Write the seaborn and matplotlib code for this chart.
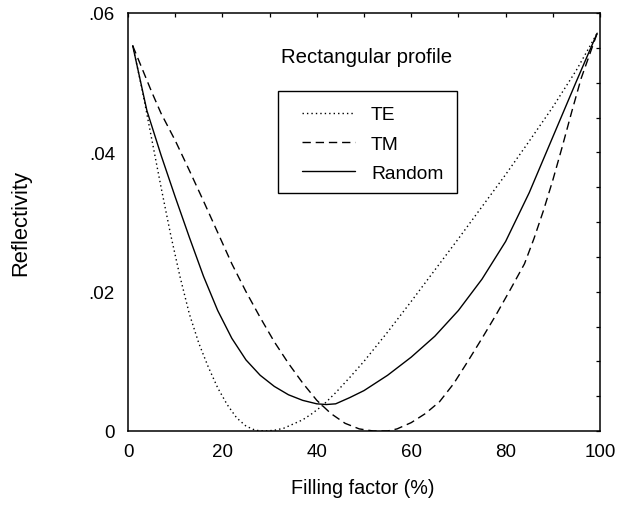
import numpy as np
import pandas as pd
import matplotlib
matplotlib.use("Agg")
import matplotlib.pyplot as plt
from matplotlib.patches import Rectangle
from matplotlib.ticker import MultipleLocator, FixedLocator, FixedFormatter
import seaborn as sns

# ---- data ----
te_x = [1, 3, 5, 7, 9, 11, 13, 15, 17, 19, 21, 23, 25, 27, 29, 31, 33, 35, 37, 39,
        41.3, 44, 47, 50, 55, 60, 65, 70, 75, 80, 85, 90, 95, 99.4]
te_y = [.0553, .0490, .0420, .0350, .0283, .0222, .0168, .0126, .0092, .0062, .0038,
        .0019, .0007, .0001, 0, .0001, .0004, .0010, .0016, .0025, .0037, .0055, .0077,
        .0100, .0142, .0186, .0231, .0276, .0322, .0368, .0416, .0465, .0518, .0571]

tm_x = [1, 3, 5, 7, 10, 13, 16, 19, 22, 25, 28, 31, 34, 37, 40, 43, 46, 49, 52, 55,
        57, 60, 63, 66, 69, 72, 75, 78, 81, 84, 86, 88, 90, 92, 94, 96, 99.4]
tm_y = [.0553, .0520, .0487, .0456, .0417, .0374, .0330, .0285, .0240, .0200, .0163,
        .0128, .0097, .0069, .0044, .0025, .0011, .0003, 0, 0, .0003, .0012, .0025,
        .0042, .0068, .0100, .0133, .0167, .0203, .0240, .0276, .0316, .0360, .0408,
        .0458, .0506, .0571]

rnd_x = [1, 4, 7, 10, 13, 16, 19, 22, 25, 28, 31, 34, 37, 40, 42, 44, 47, 50, 55,
         60, 65, 70, 75, 80, 85, 90, 95, 99.4]
rnd_y = [.0553, .0460, .0396, .0336, .0278, .0222, .0173, .0133, .0102, .0080, .0064,
         .0052, .0044, .0039, .0038, .0039, .0048, .0058, .0080, .0106, .0136, .0173,
         .0218, .0272, .0342, .0422, .0502, .0571]

series_names = ["TE", "TM", "Random"]
x_ticks = [0, 20, 40, 60, 80, 100]
x_tick_labels = ["0", "20", "40", "60", "80", "100"]
y_ticks = [0, 0.02, 0.04, 0.06]
y_tick_labels = ["0", ".02", ".04", ".06"]
title_text = "Rectangular profile"
x_label = "Filling factor (%)"
y_label = "Reflectivity"

# ---- styling ----
sns.set_theme(style="white")
plt.rcParams["font.family"] = ["Liberation Sans", "DejaVu Sans"]

fig = plt.figure(figsize=(6.17, 5.06), dpi=100)
ax = fig.add_axes([128 / 617, 1 - 432 / 506, 472 / 617, 418 / 506])

df = pd.concat([
    pd.DataFrame({"x": te_x, "y": te_y, "s": series_names[0]}),
    pd.DataFrame({"x": tm_x, "y": tm_y, "s": series_names[1]}),
    pd.DataFrame({"x": rnd_x, "y": rnd_y, "s": series_names[2]}),
])

styles = {
    "TE": (0, (1.0, 2.2)),
    "TM": (0, (6.0, 3.5)),
    "Random": "-",
}
for name in series_names:
    sub = df[df["s"] == name]
    sns.lineplot(data=sub, x="x", y="y", ax=ax, color="black", sort=False,
                 linewidth=1.0, linestyle=styles[name], label=name, estimator=None)

ax.set_xlim(0, 100)
ax.set_ylim(0, 0.06)

ax.xaxis.set_major_locator(FixedLocator(x_ticks))
ax.xaxis.set_major_formatter(FixedFormatter(x_tick_labels))
ax.yaxis.set_major_locator(FixedLocator(y_ticks))
ax.yaxis.set_major_formatter(FixedFormatter(y_tick_labels))
ax.xaxis.set_minor_locator(MultipleLocator(10))
ax.yaxis.set_minor_locator(MultipleLocator(0.005))

ax.tick_params(which="both", direction="in", top=True, right=True,
               color="black", width=0.9, length=3)
ax.tick_params(axis="x", which="major", labelsize=13.5, pad=8.5, labelcolor="black")
ax.tick_params(axis="y", which="major", labelsize=13.5, pad=9.4, labelcolor="black")

for sp in ax.spines.values():
    sp.set_color("black")
    sp.set_linewidth(1.1)

ax.set_xlabel(x_label, fontsize=14.2, color="black")
ax.set_ylabel(y_label, fontsize=15.8, color="black")
ax.xaxis.set_label_coords(0.497, -0.112)
ax.yaxis.set_label_coords(-0.205, 0.5)

ax.text(50.6, 0.0537, title_text, fontsize=14.7, color="black",
        ha="center", va="center")

# legend (frame drawn separately as a rectangle)
leg = ax.legend(loc="upper left", bbox_to_anchor=((302 - 128) / 472, (432 - 107) / 418),
                frameon=False, fontsize=13.8, borderpad=0, borderaxespad=0,
                handlelength=2.75, handletextpad=0.85, labelspacing=0.62)
for t in leg.get_texts():
    t.set_color("black")
ax.add_patch(Rectangle(((278 - 128) / 472, (432 - 194) / 418),
                       (457 - 278) / 472, (194 - 92) / 418,
                       transform=ax.transAxes, fill=False, edgecolor="black",
                       linewidth=1.0, zorder=5))

fig.savefig("out.png", dpi=100)
